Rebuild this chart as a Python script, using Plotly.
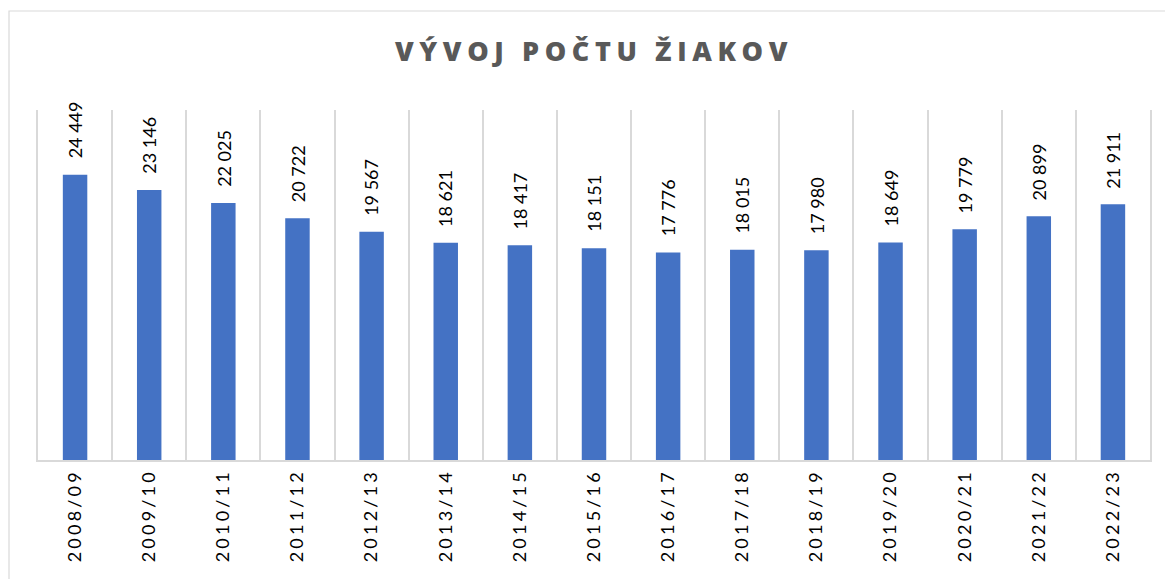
import plotly.graph_objects as go

years = ["2008/09", "2009/10", "2010/11", "2011/12", "2012/13", "2013/14", "2014/15",
         "2015/16", "2016/17", "2017/18", "2018/19", "2019/20", "2020/21", "2021/22", "2022/23"]
students = [24449, 23146, 22025, 20722, 19567, 18621, 18417, 18151, 17776, 18015,
            17980, 18649, 19779, 20899, 21911]

title_text = "VÝVOJ POČTU ŽIAKOV"
bar_color = "#4472C4"
grid_color = "#D9D9D9"
font_family = "Lato, Carlito, 'Open Sans', sans-serif"
title_family = "'Open Sans', 'Noto Sans', 'DejaVu Sans', sans-serif"

W, H = 1165, 579
L, R, T, B = 38, 15, 110, 119
pw, ph = W - L - R, H - T - B

fig = go.Figure()
fig.add_trace(go.Bar(x=years, y=students, marker=dict(color=bar_color, line=dict(width=0)),
                     hoverinfo="x+y"))

annotations = []
for yr, v in zip(years, students):
    annotations.append(dict(
        x=yr, y=v, xref="x", yref="y", text=f"{v:,}".replace(",", " "),
        showarrow=False, textangle=-90, yanchor="bottom", xanchor="center",
        yshift=14, font=dict(family=font_family, size=18, color="#000000")))

# chart-area border (light gray), extending past the photographed window
border = dict(type="rect", xref="paper", yref="paper",
              x0=(9 - L) / pw, x1=(W + 20 - L) / pw,
              y0=-(H + 20 - (T + ph)) / ph, y1=1 + (T - 11) / ph,
              line=dict(color=grid_color, width=1.2), fillcolor="rgba(0,0,0,0)", layer="below")

fig.update_layout(
    width=W, height=H,
    margin=dict(l=L, r=R, t=T, b=B, autoexpand=False),
    paper_bgcolor="white", plot_bgcolor="white",
    bargap=0.67,
    showlegend=False,
    title=dict(text=title_text, x=0.5, xref="paper", xanchor="center",
               y=1 - 52 / H, yref="container", yanchor="middle",
               font=dict(family=title_family, size=27, color="#595959", weight=800)),
    annotations=annotations,
    shapes=[border],
    xaxis=dict(type="category", tickson="boundaries", showgrid=True, gridcolor=grid_color,
               gridwidth=1.5, showline=True, linecolor=grid_color, linewidth=1.8,
               ticks="outside", ticklen=23, tickcolor="rgba(0,0,0,0)",
               tickangle=-90, tickfont=dict(family=font_family, size=18, color="#000000"),
               zeroline=False, fixedrange=True),
    yaxis=dict(range=[0, 30000], visible=True, showticklabels=False, ticks="",
               showgrid=False, zeroline=False, showline=True, mirror=True,
               linecolor=grid_color, linewidth=1.5, fixedrange=True),
)

post = """
document.body.style.margin = '0';
document.body.style.padding = '0';
var gd = document.getElementById('{plot_id}');
function sp(){
  gd.querySelectorAll('.gtitle').forEach(function(t){ t.style.letterSpacing='5.6px'; });
  gd.querySelectorAll('.xtick text').forEach(function(t){ t.style.letterSpacing='3.2px'; });
}
sp();
gd.on('plotly_afterplot', sp);
"""

fig.write_html("out.html", post_script=post, config={"displayModeBar": False})
